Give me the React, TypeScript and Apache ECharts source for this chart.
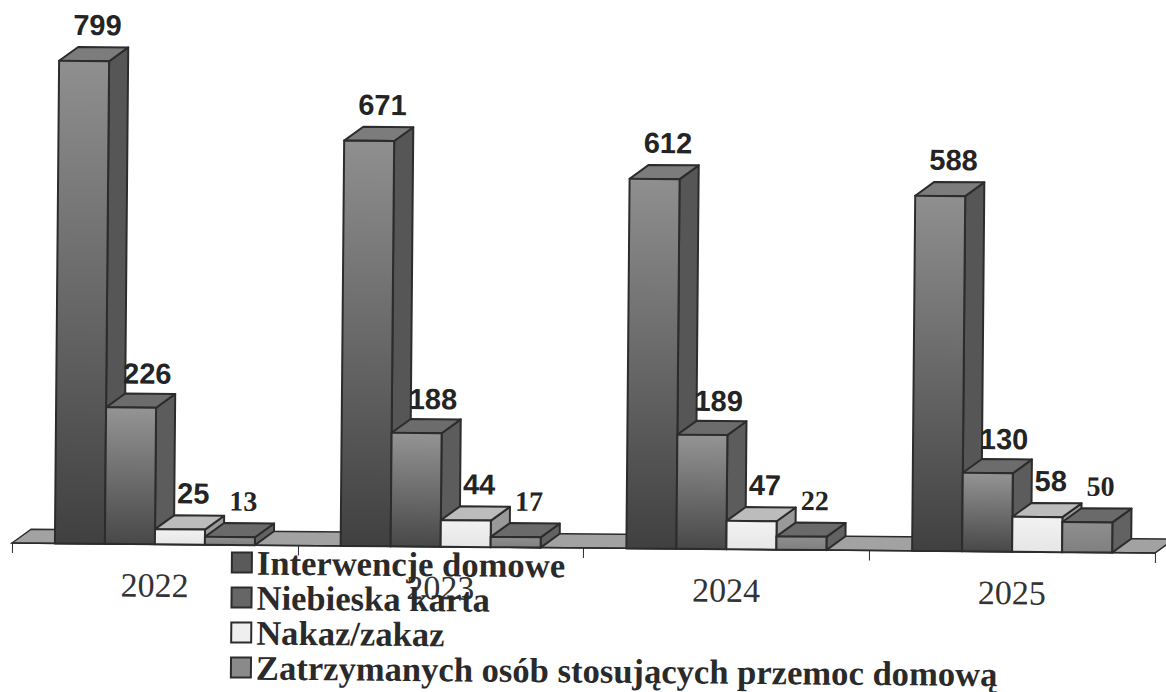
import React, { useEffect, useRef } from "react";
import * as echarts from "echarts";

const years = ["2022", "2023", "2024", "2025"];
const names = [
  "Interwencje domowe",
  "Niebieska karta",
  "Nakaz/zakaz",
  "Zatrzymanych osób stosujących przemoc domową",
];
const interwencje = [799, 671, 612, 588];
const niebieska = [226, 188, 189, 130];
const nakaz = [25, 44, 47, 58];
const zatrzymani = [13, 17, 22, 50];

const BAR_W = 50;
const DX = 19;
const DY = -14;
const GRID_LEFT = 12;
const GRID_W = 1143;
const BASE_Y = 548;
const Y_MAX = 900;
const PX_PER_UNIT = 0.604;

const looks = [
  { top: "#8f8f8f", bottom: "#404040", side: "#565656", cap: "#7c7c7c", legend: "#5a5a5a", font: "bold 29px 'Liberation Sans'", labelDx: 13, labelDy: -22 },
  { top: "#949494", bottom: "#484848", side: "#5c5c5c", cap: "#6c6c6c", legend: "#666666", font: "bold 29px 'Liberation Sans'", labelDx: 16, labelDy: -20 },
  { top: "#f2f2f2", bottom: "#e6e6e6", side: "#999999", cap: "#bcbcbc", legend: "#efefef", font: "bold 29px 'Liberation Sans'", labelDx: 13, labelDy: -22 },
  { top: "#8e8e8e", bottom: "#808080", side: "#626262", cap: "#6a6a6a", legend: "#8a8a8a", font: "bold 28px 'Liberation Serif'", labelDx: 13, labelDy: -22 },
];
const stroke = "#2c2c2c";

function barRenderer(seriesIndex: number) {
  const look = looks[seriesIndex];
  return (_params: any, api: any) => {
    const idx = api.value(0);
    const val = api.value(1);
    const [cx, yTop] = api.coord([idx, val]);
    const [, yBase] = api.coord([idx, 0]);
    const x0 = cx + (seriesIndex - 2) * BAR_W;
    const x1 = x0 + BAR_W;
    const line = { stroke, lineWidth: 2, lineJoin: "round" };
    return {
      type: "group",
      children: [
        {
          type: "polygon",
          shape: { points: [[x1, yTop], [x1 + DX, yTop + DY], [x1 + DX, yBase + DY], [x1, yBase]] },
          style: { fill: look.side, ...line },
        },
        {
          type: "polygon",
          shape: { points: [[x0, yTop], [x0 + DX, yTop + DY], [x1 + DX, yTop + DY], [x1, yTop]] },
          style: { fill: look.cap, ...line },
        },
        {
          type: "rect",
          shape: { x: x0, y: yTop, width: BAR_W, height: yBase - yTop },
          style: {
            fill: new echarts.graphic.LinearGradient(0, 0, 0, 1, [
              { offset: 0, color: look.top },
              { offset: 1, color: look.bottom },
            ]),
            ...line,
          },
        },
        {
          type: "text",
          x: x0 + BAR_W / 2 + look.labelDx,
          y: yTop + DY + look.labelDy,
          style: {
            text: String(val),
            font: look.font,
            fill: "#242424",
            textAlign: "center",
            textVerticalAlign: "middle",
          },
        },
      ],
    };
  };
}

function floorRenderer(params: any, api: any) {
  const [, y] = api.coord([0, 0]);
  const x = params.coordSys.x;
  const w = params.coordSys.width;
  return {
    type: "polygon",
    shape: { points: [[x, y], [x + DX, y + DY], [x + w + DX, y + DY], [x + w, y]] },
    style: { fill: "#a2a2a2", stroke, lineWidth: 1.5 },
  };
}

const seriesValues = [interwencje, niebieska, nakaz, zatrzymani];

export default function App() {
  const ref = useRef<HTMLDivElement>(null);
  useEffect(() => {
    const chart = echarts.init(ref.current!, undefined, { renderer: "svg" });
    chart.setOption({
      animation: false,
      backgroundColor: "#ffffff",
      grid: {
        left: GRID_LEFT,
        width: GRID_W,
        top: BASE_Y - Y_MAX * PX_PER_UNIT,
        height: Y_MAX * PX_PER_UNIT,
      },
      xAxis: {
        type: "category",
        data: years,
        axisLine: { show: true, lineStyle: { color: stroke, width: 1.5 } },
        axisTick: { show: true, alignWithLabel: false, length: 10, lineStyle: { color: stroke } },
        axisLabel: {
          margin: 24,
          fontFamily: "'Liberation Serif'",
          fontSize: 34,
          color: "#333333",
        },
        z: 1,
      },
      yAxis: { type: "value", min: 0, max: Y_MAX, show: false, splitLine: { show: false } },
      legend: {
        orient: "vertical",
        left: 226,
        top: 543,
        height: 180,
        width: 920,
        itemWidth: 20,
        itemHeight: 20,
        itemGap: 0,
        icon: "rect",
        z: 20,
        data: names.map((name, i) => ({
          name,
          icon: "rect",
          itemStyle: { color: looks[i].legend, borderColor: stroke, borderWidth: 2 },
        })),
        textStyle: {
          fontFamily: "'Liberation Serif'",
          fontWeight: "bold",
          fontSize: 34.6,
          lineHeight: 34,
          color: "#2a2a2a",
        },
      },
      series: [
        {
          type: "custom",
          name: "floor",
          silent: true,
          renderItem: floorRenderer,
          data: [[0, 0]],
          z: 0,
        },
        ...names.map((name, i) => ({
          type: "custom",
          name,
          renderItem: barRenderer(i),
          encode: { x: 0, y: 1 },
          data: seriesValues[i].map((v, k) => [k, v]),
          itemStyle: { color: looks[i].legend },
          z: 2 + i,
        })),
      ],
    });
    return () => chart.dispose();
  }, []);
  return (
    <div style={{ position: "fixed", left: 0, top: 0, width: 1166, height: 692, overflow: "hidden", background: "#fff" }}>
      <div
        ref={ref}
        style={{ width: 1166, height: 692, transform: "rotate(0.5deg)", transformOrigin: "583px 548px" }}
      />
    </div>
  );
}
